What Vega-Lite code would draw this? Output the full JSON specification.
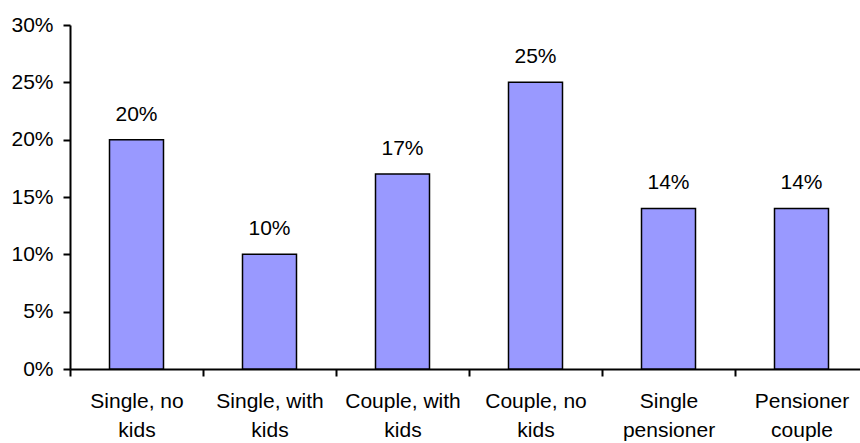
{
  "$schema": "https://vega.github.io/schema/vega-lite/v6.json",
  "autosize": {"type": "none"},
  "padding": {"left": 70, "top": 25, "right": 0, "bottom": 74},
  "width": 790,
  "height": 344,
  "background": "white",
  "config": {
    "view": {"stroke": null},
    "font": "Liberation Sans",
    "axis": {
      "domainColor": "black",
      "domainWidth": 2,
      "tickColor": "black",
      "tickWidth": 2,
      "labelColor": "black",
      "labelFont": "Liberation Sans",
      "labelFontSize": 21,
      "grid": false,
      "title": null
    }
  },
  "data": {
    "values": [
      {"household": "Single, no kids", "share": 0.20},
      {"household": "Single, with kids", "share": 0.10},
      {"household": "Couple, with kids", "share": 0.17},
      {"household": "Couple, no kids", "share": 0.25},
      {"household": "Single pensioner", "share": 0.14},
      {"household": "Pensioner couple", "share": 0.14}
    ]
  },
  "encoding": {
    "x": {
      "field": "household",
      "type": "nominal",
      "sort": null,
      "scale": {"range": [0, 798], "paddingInner": 0, "paddingOuter": 0},
      "axis": {
        "labelAngle": 0,
        "tickBand": "extent",
        "tickSize": 7,
        "labelPadding": 14,
        "labelBaseline": "top",
        "labelLineHeight": 29,
        "labelExpr": "datum.value == 'Single, no kids' ? ['Single, no', 'kids'] : datum.value == 'Single, with kids' ? ['Single, with', 'kids'] : datum.value == 'Couple, with kids' ? ['Couple, with', 'kids'] : datum.value == 'Couple, no kids' ? ['Couple, no', 'kids'] : datum.value == 'Single pensioner' ? ['Single', 'pensioner'] : datum.value == 'Pensioner couple' ? ['Pensioner', 'couple'] : ''"
      }
    },
    "y": {
      "field": "share",
      "type": "quantitative",
      "scale": {"domain": [0, 0.3], "nice": false},
      "axis": {
        "values": [0, 0.05, 0.1, 0.15, 0.2, 0.25, 0.3],
        "format": ".0%",
        "tickSize": 7,
        "labelPadding": 10
      }
    }
  },
  "layer": [
    {
      "mark": {
        "type": "bar",
        "width": {"band": 0.406},
        "fill": "#9999FF",
        "stroke": "black",
        "strokeWidth": 1.5
      }
    },
    {
      "mark": {
        "type": "text",
        "baseline": "alphabetic",
        "dy": -19,
        "fontSize": 21,
        "color": "black"
      },
      "encoding": {
        "text": {"field": "share", "type": "quantitative", "format": ".0%"}
      }
    }
  ]
}
